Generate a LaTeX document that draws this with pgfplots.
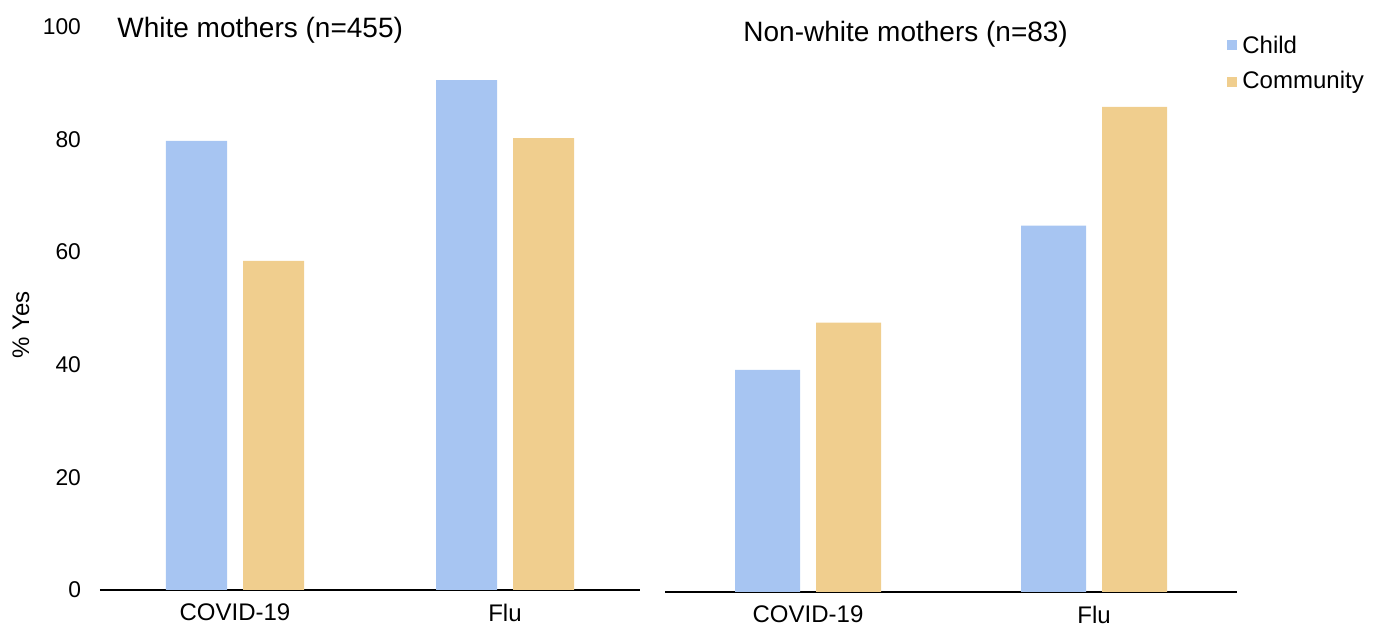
\documentclass[border=0pt]{standalone}
\usepackage{pgfplots}
\pgfplotsset{compat=1.18}
\usepackage{fontspec}
\setmainfont{Liberation Sans}
\definecolor{cblue}{HTML}{A7C5F2}
\definecolor{corange}{HTML}{F0CE8E}
\begin{document}
\begin{tikzpicture}
\path[use as bounding box] (0,0) rectangle (690.5pt,313pt);
\pgfplotsset{
  panel/.style={
    scale only axis,
    height=281.75pt,
    ymin=0, ymax=100,
    xmin=-0.5, xmax=1.5,
    xtick={0,1},
    xticklabels={COVID-19,Flu},
    axis lines*=left,
    y axis line style={draw=none},
    x axis line style={black, line width=0.8pt, -},
    tick style={draw=none},
    xticklabel style={font=\fontsize{12}{14}\selectfont, yshift=-3.5pt},
    yticklabel style={font=\fontsize{11.4}{13}\selectfont, xshift=-6pt},
    /pgf/number format/assume math mode=true,
    clip=false,
  },
}
% Left panel
\begin{axis}[panel, at={(50pt,18pt)}, anchor=south west, width=270pt,
  ytick={0,20,40,60,80,100}]
\addplot[ybar, bar width=30.5pt, bar shift=-19.25pt, fill=cblue, draw=none] coordinates {(0,79.7) (1,90.5)};
\addplot[ybar, bar width=30.5pt, bar shift=19.25pt, fill=corange, draw=none] coordinates {(0,58.4) (1,80.2)};
\end{axis}
% Right panel
\begin{axis}[panel, at={(332.5pt,17pt)}, anchor=south west, width=286pt,
  ytick=\empty]
\addplot[ybar, bar width=32.5pt, bar shift=-20.25pt, fill=cblue, draw=none] coordinates {(0,39.4) (1,65.0)};
\addplot[ybar, bar width=32.5pt, bar shift=20.25pt, fill=corange, draw=none] coordinates {(0,47.8) (1,86.1)};
\end{axis}
% y label
\node[rotate=90, inner sep=0pt, font=\fontsize{12}{14}\selectfont] at (10.5pt,150.5pt) {\% Yes};
% Titles
\node[anchor=base west, inner sep=0pt, font=\fontsize{14}{16}\selectfont] at (58.5pt,294pt) {White mothers (n=455)};
\node[anchor=base west, inner sep=0pt, font=\fontsize{14}{16}\selectfont] at (371.5pt,292pt) {Non-white mothers (n=83)};
% Legend
\fill[cblue] (613.5pt,288pt) rectangle (618.5pt,293pt);
\node[anchor=west, inner sep=0pt, font=\fontsize{12}{14}\selectfont] at (621pt,290.5pt) {Child};
\fill[corange] (613.5pt,269.5pt) rectangle (618.5pt,274.5pt);
\node[anchor=west, inner sep=0pt, font=\fontsize{12}{14}\selectfont] at (621pt,272pt) {Community};
\end{tikzpicture}
\end{document}
